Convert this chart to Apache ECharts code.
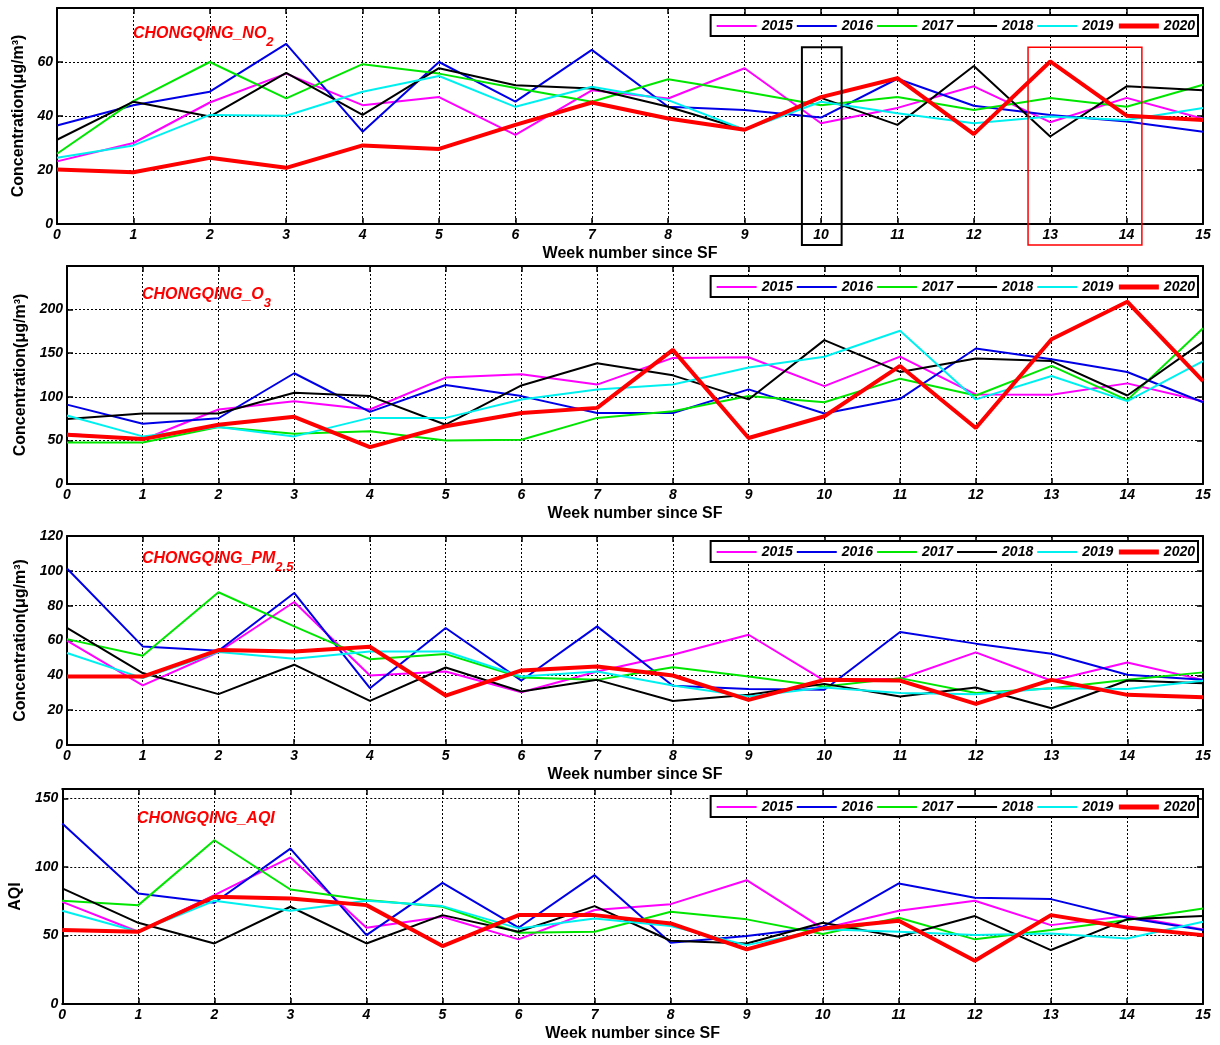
<!DOCTYPE html>
<html><head><meta charset="utf-8">
<script src="https://cdn.jsdelivr.net/npm/echarts@6/dist/echarts.min.js"></script>
<style>html,body{margin:0;padding:0;background:#fff}#chart{width:1220px;height:1045px}</style>
</head><body><div id="chart"></div>
<script>
// ---------------- DATA ----------------
const weeks = [0,1,2,3,4,5,6,7,8,9,10,11,12,13,14,15];
const years = ['2015','2016','2017','2018','2019','2020'];

const no2_2015 = [23.2,30,45,55.7,44,47,33,49.5,46.5,57.7,37.3,43,51,37.7,46.7,39];
const no2_2016 = [36.5,44,49,66.7,34.2,60,45.3,64.5,43.4,42.2,39.4,53.8,43.8,40.4,38,34.2];
const no2_2017 = [26,45.5,60,46.5,59.2,55.7,50.4,45.3,53.6,49,44,47,42.2,46.7,43.4,51.6];
const no2_2018 = [31.2,45.3,39.8,56,40.4,57.7,51.4,50.2,43.4,34.9,46.7,36.7,58.5,32.4,51,49.5];
const no2_2019 = [24.5,29.1,40.4,40.1,49,54.8,43.4,50.8,45.9,34.9,45.3,41,37.3,39.8,38.5,43];
const no2_2020 = [20.2,19.2,24.5,20.8,29.1,27.8,36.7,45,39.1,34.9,47,54,33.3,60.2,40.1,38.5];

const o3_2015 = [57.7,50.8,85.4,95,85.4,122,125.8,114,144.6,145.4,112.3,146,102.7,102.3,115.4,95];
const o3_2016 = [91,69.2,75.4,127,82.7,113.5,100.8,81.5,81.5,108.5,80.8,97.7,155.4,143,128.5,93.8];
const o3_2017 = [47.7,47.7,65.4,57.7,60.4,50,50.8,75.8,83.5,100.8,93.8,120.8,101.5,135.4,96.2,178.5];
const o3_2018 = [74.6,80.8,80.8,104.6,100.8,68,113,138.5,124.6,97,165,128.5,143.8,141,101.5,163];
const o3_2019 = [78.5,54.6,65.4,54.6,75.8,75.8,97,108.5,114.2,133.5,146,175.8,97,123.8,95,141];
const o3_2020 = [56.5,51.5,68,77,42.3,66.2,81.5,87.3,153.8,52.7,77.7,135.4,64.2,166,209,118];

const pm25_2015 = [59.9,34.2,53.4,82.1,39.9,42.2,30.3,42.2,51.8,63.3,37,38,53.2,36.9,47.4,37.4];
const pm25_2016 = [101.3,56.6,54.1,87.3,32.6,67.2,37,68.1,34,32.2,31.7,64.9,58.2,52.4,40.3,37.4];
const pm25_2017 = [60.8,51.2,87.7,68.1,49.3,52.2,38.8,37.4,44.7,39.3,33.6,38.4,29.8,32.6,37.4,41.7];
const pm25_2018 = [67.2,41.3,29.2,46.1,25.3,44.5,30.7,37.4,25.3,28.8,35.1,27.8,33,21.1,37,35.5];
const pm25_2019 = [52.8,38.4,53.4,49.5,53.7,53.7,39.3,42.2,34.2,27.8,33,29.8,29.2,32.6,32.2,36.9];
const pm25_2020 = [39.3,39.3,54.5,53.7,56.4,28.4,42.8,45.1,39.9,25.9,37.4,37,23.6,37.4,28.8,27.4];

const aqi_2015 = [74.6,52.8,79.5,107,55.7,63.7,47.2,68.6,72.9,90.4,55.2,68.1,75.4,57.6,64.2,54.5];
const aqi_2016 = [131.8,80.7,73.9,113.5,50.3,88.5,55.7,94.1,44.7,49.6,56.4,88,77.6,76.6,63,54];
const aqi_2017 = [75.4,72.2,119.6,83.6,75.9,71,52,52.8,67.3,61.8,51.1,63,47.2,54,61.3,69.8];
const aqi_2018 = [84.4,59.3,44.2,71,44.2,64.9,52.8,71.5,46.2,44.2,59.3,49.1,64.2,39.4,61.8,64.2];
const aqi_2019 = [68.1,52.8,75.4,68.1,75.4,71.5,55.2,62.5,56.9,43,54.5,52.8,50.3,51.5,47.9,60.1];
const aqi_2020 = [54,52.8,78.3,77.1,72.2,42.3,64.9,64.9,58.8,39.9,55.2,60.8,31.6,64.9,55.9,50.3];

// annotation boxes on the NO2 panel (week range, top value)
const boxWeeks = [[9.75, 10.27], [12.71, 14.2]];
const boxTopValue = 65.5;

// ---------------- STYLE / LAYOUT ----------------
const FONT = '"Liberation Sans", Arial, sans-serif';
const colors = ['#ff00ff', '#0000e6', '#00e600', '#000000', '#00f0f0', '#ff0000'];
const widths = [2, 2, 2, 2, 2, 4];

const panels = [
  { grid: {left: 57, top: 8, width: 1146, height: 216}, yMax: 80, yInt: 20, yName: 'Concentration(μg/m³)', nameGap: 27, legendTop: 15,
    data: [no2_2015, no2_2016, no2_2017, no2_2018, no2_2019, no2_2020], title: ['CHONGQING_NO', '2'], tpos: [133, 35] },
  { grid: {left: 67, top: 266, width: 1136, height: 218}, yMax: 250, yInt: 50, yName: 'Concentration(μg/m³)', nameGap: 37, legendTop: 276,
    data: [o3_2015, o3_2016, o3_2017, o3_2018, o3_2019, o3_2020], title: ['CHONGQING_O', '3'], tpos: [142, 296] },
  { grid: {left: 67, top: 536, width: 1136, height: 209}, yMax: 120, yInt: 20, yName: 'Concentration(μg/m³)', nameGap: 37, legendTop: 541,
    data: [pm25_2015, pm25_2016, pm25_2017, pm25_2018, pm25_2019, pm25_2020], title: ['CHONGQING_PM', '2.5'], tpos: [142, 560] },
  { grid: {left: 62, top: 789, width: 1141, height: 215}, yMax: 157, yInt: 50, yName: 'AQI', nameGap: 37, legendTop: 796,
    data: [aqi_2015, aqi_2016, aqi_2017, aqi_2018, aqi_2019, aqi_2020], title: ['CHONGQING_AQI', ''], tpos: [137, 820] }
];

const grids = [], xAxes = [], yAxes = [], series = [], legends = [], graphics = [];
const tickStyle = {show: true, inside: true, length: 6, lineStyle: {color: '#000', width: 1.5}};
const lineAx = {show: true, onZero: false, lineStyle: {color: '#000', width: 2}};
const dotted = {show: true, lineStyle: {color: '#000', width: 1, type: [2, 2]}};
const lblStyle = {fontFamily: FONT, fontSize: 14, fontWeight: 'bold', fontStyle: 'italic', color: '#000'};

const measure = (() => {
  const c = document.createElement('canvas').getContext('2d');
  return (t, f) => { c.font = f; return c.measureText(t).width; };
})();

panels.forEach((p, i) => {
  grids.push(Object.assign({containLabel: false}, p.grid));
  xAxes.push({
    gridIndex: i, type: 'value', min: 0, max: 15, interval: 1, position: 'bottom',
    name: 'Week number since SF', nameLocation: 'middle', nameGap: 22,
    nameTextStyle: {fontFamily: FONT, fontSize: 16, fontWeight: 'bold', color: '#000'},
    axisLine: lineAx, axisTick: tickStyle, splitLine: dotted,
    axisLabel: Object.assign({margin: 4}, lblStyle)
  });
  xAxes.push({
    gridIndex: i, type: 'value', min: 0, max: 15, interval: 1, position: 'top',
    axisLine: lineAx, axisTick: tickStyle, splitLine: {show: false}, axisLabel: {show: false}
  });
  const maxV = p.yMax, step = p.yInt;
  yAxes.push({
    gridIndex: i, type: 'value', min: 0, max: maxV, interval: step, position: 'left',
    name: p.yName, nameLocation: 'middle', nameGap: p.nameGap,
    nameTextStyle: {fontFamily: FONT, fontSize: 16, fontWeight: 'bold', color: '#000'},
    axisLine: lineAx, axisTick: tickStyle, splitLine: dotted,
    axisLabel: Object.assign({margin: 4, formatter: v => (v % step === 0 && !(i < 2 && v === maxV)) ? String(v) : ''}, lblStyle)
  });
  yAxes.push({
    gridIndex: i, type: 'value', min: 0, max: maxV, interval: step, position: 'right',
    axisLine: lineAx, axisTick: tickStyle, splitLine: {show: false}, axisLabel: {show: false}
  });
  years.forEach((y, k) => {
    series.push({
      type: 'line', name: y, xAxisIndex: 2 * i, yAxisIndex: 2 * i,
      data: weeks.map((w, j) => [w, p.data[k][j]]),
      symbol: 'none', color: colors[k],
      lineStyle: {color: colors[k], width: widths[k]},
      animation: false, silent: true
    });
  });
  legends.push({
    data: years.map((y, k) => ({name: y, lineStyle: {width: k === 5 ? 5 : 2}})),
    right: 22, top: p.legendTop,
    orient: 'horizontal', itemWidth: 40, itemHeight: 12, itemGap: 3,
    itemStyle: {opacity: 0},
    backgroundColor: '#fff', borderColor: '#000', borderWidth: 2, padding: [4, 3, 3, 5],
    textStyle: {fontFamily: FONT, fontSize: 14, fontWeight: 'bold', fontStyle: 'italic', color: '#000'},
    selectedMode: false
  });
  // panel title (main text + subscript)
  const mainFont = 'italic bold 16px ' + FONT;
  const mw = measure(p.title[0], mainFont);
  graphics.push({type: 'text', left: p.tpos[0], top: p.tpos[1] - 9, z: 50,
    style: {text: p.title[0], font: mainFont, fill: '#ff0000'}});
  if (p.title[1]) {
    graphics.push({type: 'text', left: p.tpos[0] + mw, top: p.tpos[1] + 1, z: 50,
      style: {text: p.title[1], font: 'italic bold 13px ' + FONT, fill: '#ff0000'}});
  }
});

const chart = echarts.init(document.getElementById('chart'), null, {renderer: 'canvas'});
chart.setOption({
  backgroundColor: '#fff', animation: false,
  grid: grids, xAxis: xAxes, yAxis: yAxes, series: series, legend: legends, graphic: graphics
});

// annotation rectangles placed through the axes of the first panel
const boxColors = ['#000', '#ff0000'];
const boxLW = [2, 1.5];
const extra = boxWeeks.map((b, n) => {
  const p0 = chart.convertToPixel({xAxisIndex: 0, yAxisIndex: 0}, [b[0], boxTopValue]);
  const p1 = chart.convertToPixel({xAxisIndex: 0, yAxisIndex: 0}, [b[1], 0]);
  return {type: 'rect', z: 60, shape: {x: p0[0], y: p0[1], width: p1[0] - p0[0], height: p1[1] + 21 - p0[1]},
    style: {fill: 'none', stroke: boxColors[n], lineWidth: boxLW[n]}};
});
chart.setOption({graphic: graphics.concat(extra)});
</script>
</body></html>
